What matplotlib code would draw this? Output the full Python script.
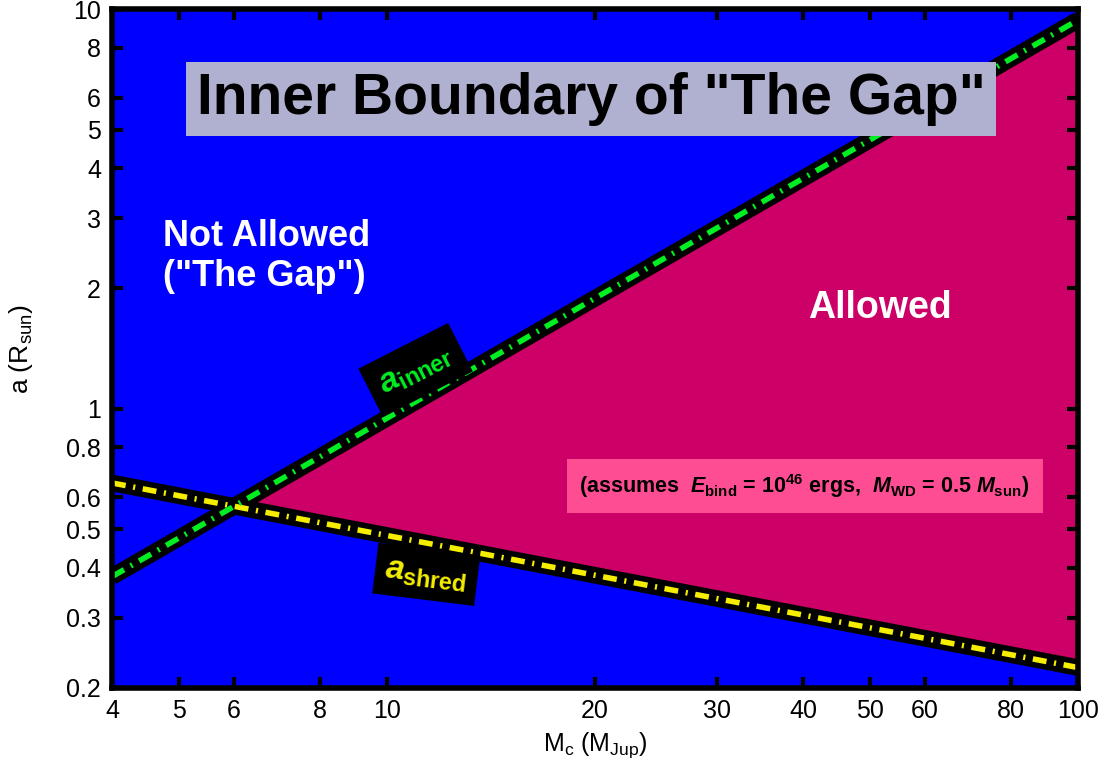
import numpy as np
import matplotlib
matplotlib.use('Agg')
from matplotlib import pyplot as plt
from matplotlib.ticker import FixedLocator, FixedFormatter, NullLocator

plt.rcParams['font.family'] = ['Liberation Sans', 'DejaVu Sans']
plt.rcParams['mathtext.fontset'] = 'custom'
plt.rcParams['mathtext.rm'] = 'Liberation Sans'
plt.rcParams['mathtext.it'] = 'Liberation Sans:italic:bold'
plt.rcParams['mathtext.bf'] = 'Liberation Sans:bold'
plt.rcParams['lines.scale_dashes'] = False

# data (straight lines in log-log space)
mass = [4, 100]
a_inner = [0.38, 9.4]
a_shred = [0.652, 0.225]

x_ticks = [4, 5, 6, 8, 10, 20, 30, 40, 50, 60, 80, 100]
y_ticks = [0.2, 0.3, 0.4, 0.5, 0.6, 0.8, 1, 2, 3, 4, 5, 6, 8, 10]

blue = '#0000ff'
magenta = '#cc0066'
green = '#00ee22'
yellow = '#f5ee00'

fig = plt.figure(figsize=(11.09, 7.73), dpi=100)
ax = fig.add_axes([0.101, 0.110, 0.871, 0.878])
ax.set_xscale('log')
ax.set_yscale('log')
ax.set_xlim(4, 100)
ax.set_ylim(0.2, 10)
ax.set_facecolor(blue)

# crossing of the two lines (log space)
lm = np.log10(mass)
li = np.log10(a_inner)
ls = np.log10(a_shred)
si = (li[1] - li[0]) / (lm[1] - lm[0])
ss = (ls[1] - ls[0]) / (lm[1] - lm[0])
xc = (ls[0] - li[0]) / (si - ss) + lm[0]
yc = li[0] + si * (xc - lm[0])
ax.fill([10**xc, mass[1], mass[1]], [10**yc, a_inner[1], a_shred[1]],
        color=magenta, lw=0, zorder=1)

for vals, col in [(a_shred, yellow), (a_inner, green)]:
    ax.plot(mass, vals, color='black', lw=12, solid_capstyle='butt', zorder=2)
    ax.plot(mass, vals, color=col, lw=4, linestyle=(0, (10, 5.5, 1.5, 5.5)),
            dash_capstyle='butt', zorder=3)

ax.text(0.496, 0.868, 'Inner Boundary of "The Gap"', transform=ax.transAxes,
        fontsize=41, fontweight='bold', ha='center', va='center', zorder=5,
        bbox=dict(boxstyle='square,pad=0.18', fc='#b0b0d0', ec='none'))

ax.text(0.053, 0.636, 'Not Allowed\n("The Gap")', transform=ax.transAxes,
        fontsize=26, fontweight='bold', color='white', ha='left', va='center',
        linespacing=1.2, zorder=5)
ax.text(0.795, 0.56, 'Allowed', transform=ax.transAxes, fontsize=27,
        fontweight='bold', color='white', ha='center', va='center', zorder=5)

ax.text(0.717, 0.2975,
        r'(assumes  $\mathit{E}_{\mathbf{bind}}$ = 10$^{\mathbf{46}}$ ergs,  '
        r'$\mathit{M}_{\mathbf{WD}}$ = 0.5 $\mathit{M}_{\mathbf{sun}}$)',
        transform=ax.transAxes, fontsize=15.5, fontweight='bold', ha='center',
        va='center', zorder=5,
        bbox=dict(boxstyle='square,pad=0.6', fc='#ff4d94', ec='none'))

ax.text(11.0, 1.25, r'$\mathit{a}_{\mathbf{inner}}$', fontsize=24, color=green,
        rotation=27, ha='center', va='center', zorder=6,
        bbox=dict(boxstyle='square,pad=0.35', fc='black', ec='none'))
ax.text(11.4, 0.385, r'$\mathit{a}_{\mathbf{shred}}$', fontsize=24, color=yellow,
        rotation=-7, ha='center', va='center', zorder=6,
        bbox=dict(boxstyle='square,pad=0.3', fc='black', ec='none'))

ax.xaxis.set_major_locator(FixedLocator(x_ticks))
ax.xaxis.set_major_formatter(FixedFormatter([str(v) for v in x_ticks]))
ax.yaxis.set_major_locator(FixedLocator(y_ticks))
ax.yaxis.set_major_formatter(FixedFormatter([f'{v:g}' for v in y_ticks]))
ax.xaxis.set_minor_locator(NullLocator())
ax.yaxis.set_minor_locator(NullLocator())
ax.tick_params(which='major', direction='in', length=8, width=3, labelsize=18,
               top=True, right=True, pad=8, zorder=7)
for sp in ax.spines.values():
    sp.set_linewidth(4)
    sp.set_zorder(8)

ax.set_xlabel(r'M$_{\rm c}$ (M$_{\rm Jup}$)', fontsize=18, labelpad=5)
ax.set_ylabel(r'a (R$_{\rm sun}$)', fontsize=19, labelpad=22)

fig.savefig('out.png', dpi=100)
